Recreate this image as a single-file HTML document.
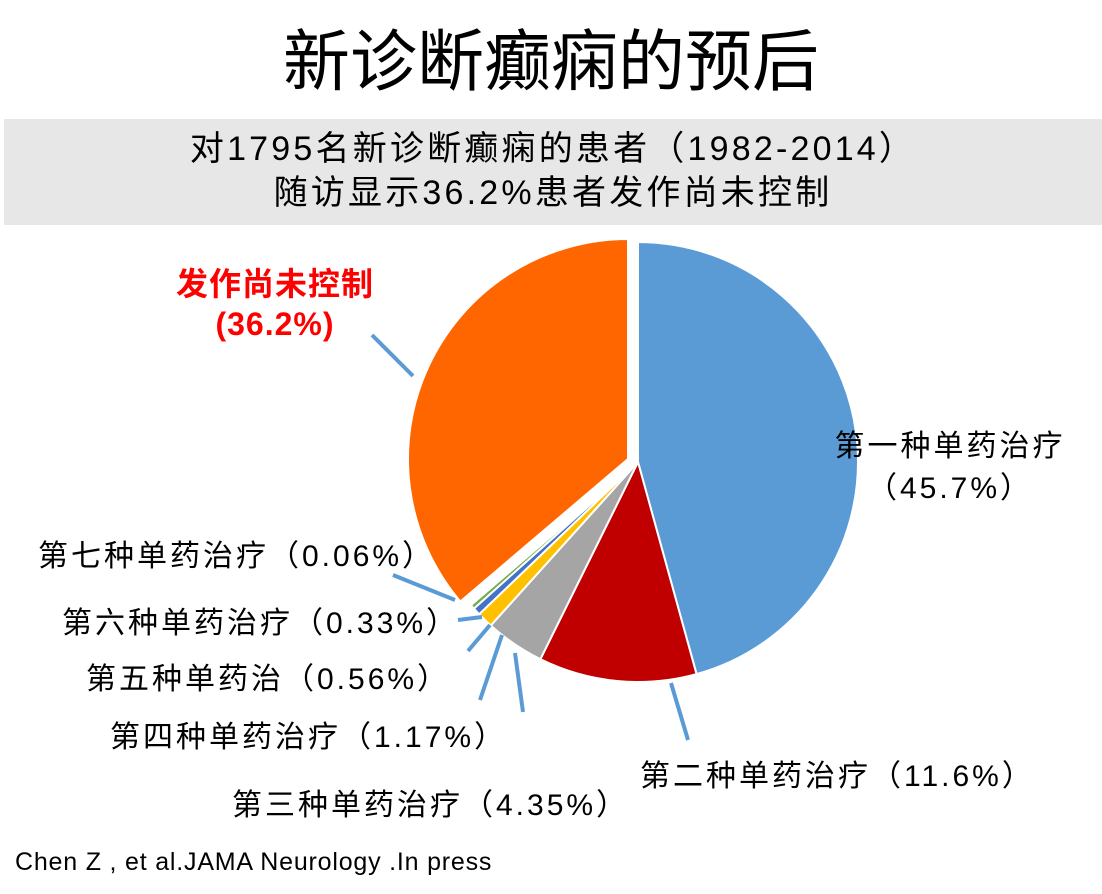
<!DOCTYPE html>
<html><head><meta charset="utf-8"><style>
body{margin:0;width:1102px;height:894px;background:#fff;overflow:hidden;font-family:"Liberation Sans","Noto Sans CJK SC",sans-serif}
.t{position:absolute;white-space:nowrap;color:#000}
.l{font-size:30px;letter-spacing:3px}
</style></head><body>
<div class="t" style="left:0;width:1102px;text-align:center;top:20px;font-size:67px;line-height:86px">新诊断癫痫的预后</div>
<div style="position:absolute;left:4px;top:119px;width:1098px;height:106px;background:#e7e7e7"></div>
<div class="t" style="left:4px;width:1098px;text-align:center;top:127px;font-size:34px;line-height:44px;letter-spacing:3.2px">对1795名新诊断癫痫的患者（1982-2014）<br>随访显示36.2%患者发作尚未控制</div>
<svg id="s" width="1102" height="894" style="position:absolute;left:0;top:0"></svg>
<div class="t" style="left:150px;width:250px;text-align:center;top:264px;font-size:32px;line-height:40px;color:#f00;font-weight:bold;letter-spacing:1px">发作尚未控制<br>(36.2%)</div>
<div class="t l" style="left:810px;width:280px;text-align:center;top:426px;line-height:42px">第一种单药治疗<br>（45.7%）</div>
<div class="t l" style="left:38px;top:531px">第七种单药治疗（0.06%）</div>
<div class="t l" style="left:62px;top:598px">第六种单药治疗（0.33%）</div>
<div class="t l" style="left:86px;top:654px">第五种单药治（0.56%）</div>
<div class="t l" style="left:110px;top:712px">第四种单药治疗（1.17%）</div>
<div class="t l" style="left:232px;top:780px">第三种单药治疗（4.35%）</div>
<div class="t l" style="left:640px;top:751px">第二种单药治疗（11.6%）</div>
<div class="t" style="left:15px;top:848px;font-size:25px;letter-spacing:0.8px">Chen Z , et al.JAMA Neurology .In press</div>
<script>
var s=document.getElementById('s'),h='';
var d=[[45.7,'#5b9bd5'],[11.6,'#c00000'],[4.35,'#a5a5a5'],[1.17,'#ffc000'],[0.56,'#4472c4'],[0.33,'#70ad47'],[0.06,'#264478'],[36.2,'#ff6600']];
var tot=0;d.forEach(function(x){tot+=x[0]});
var a=-90,cx=638,cy=462,r=220;
d.forEach(function(x,i){var sw=x[0]/tot*360,a2=a+sw;var ox=0,oy=0;if(i==7){ox=-10;oy=-3}
var c=cx+ox,e=cy+oy,p=Math.PI/180;
h+='<path d="M'+c+','+e+' L'+(c+r*Math.cos(a*p))+','+(e+r*Math.sin(a*p))+' A'+r+','+r+' 0 '+(sw>180?1:0)+' 1 '+(c+r*Math.cos(a2*p))+','+(e+r*Math.sin(a2*p))+' Z" fill="'+x[1]+'" stroke="#fff" stroke-width="2"/>';a=a2;});
[[372,335,413,376],[393,575,455,600],[458,620,482,617],[468,651,490,625],[480,700,502,635],[515,653,523,712],[671,683,688,740]].forEach(function(l){h+='<line x1="'+l[0]+'" y1="'+l[1]+'" x2="'+l[2]+'" y2="'+l[3]+'" stroke="#5b9bd5" stroke-width="4"/>'});
s.innerHTML=h;
</script>
</body></html>
